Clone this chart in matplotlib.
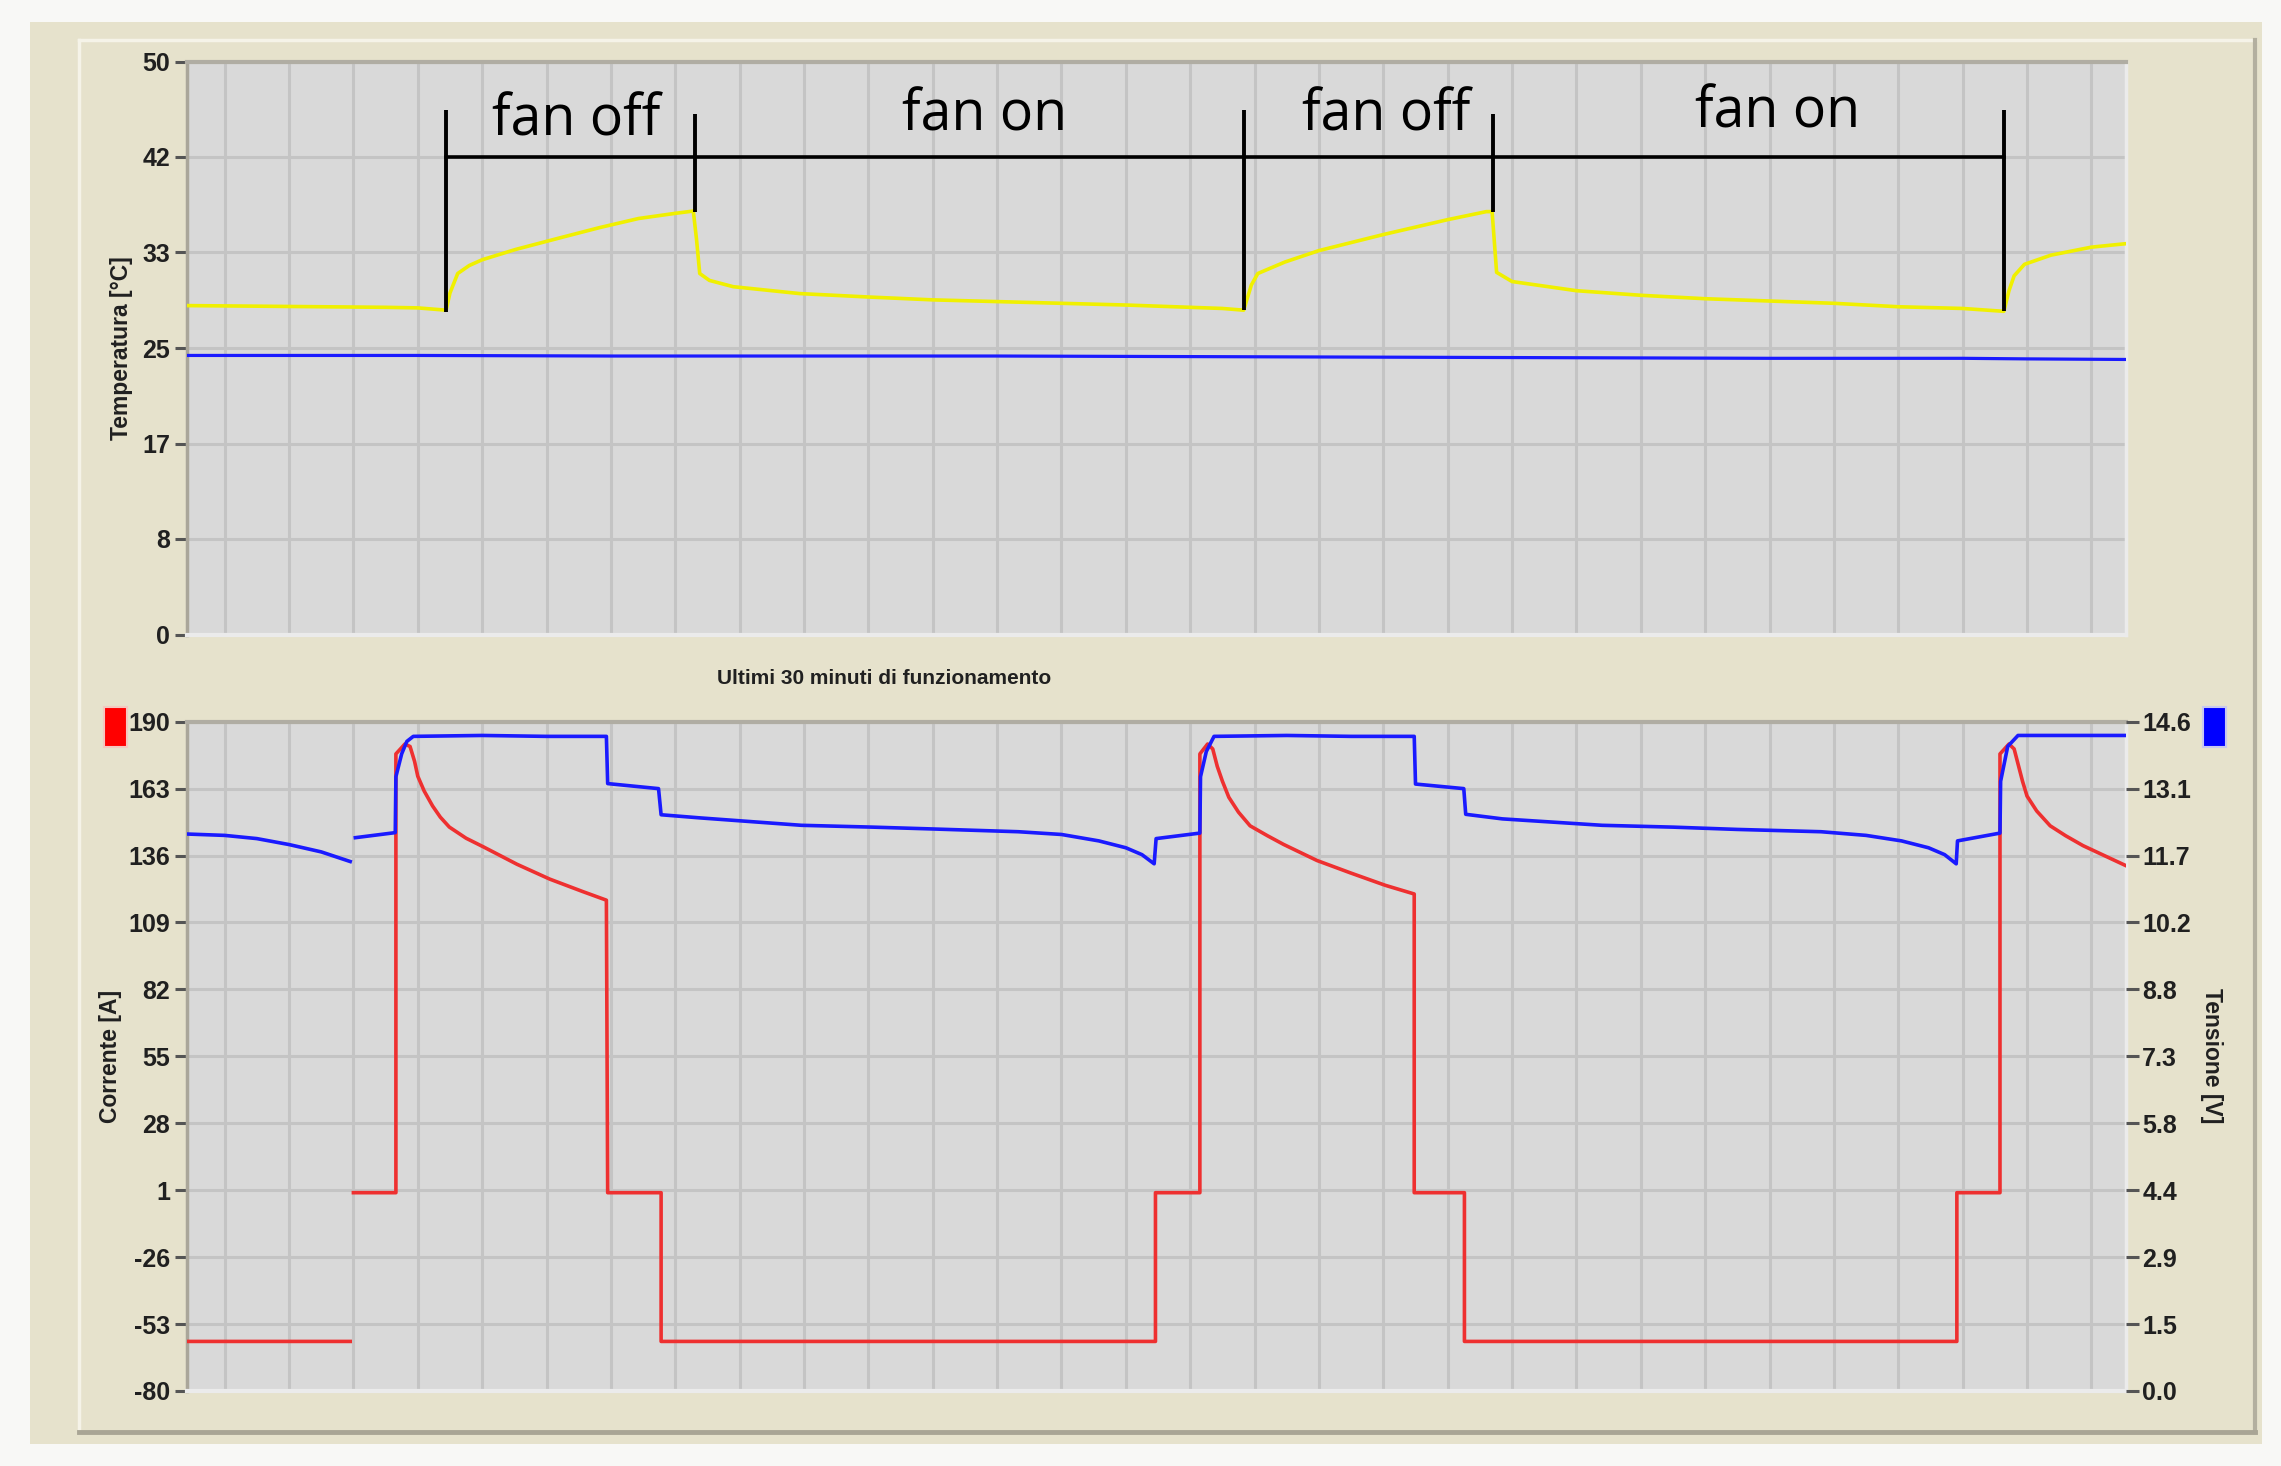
import matplotlib
matplotlib.use("Agg")
import matplotlib.pyplot as plt
import numpy as np
from matplotlib.patches import Rectangle
from matplotlib.lines import Line2D

# ---------------- data (time in minutes) ----------------
temp_ticklabels = ["0", "8", "17", "25", "33", "42", "50"]
cur_ticklabels = ["-80", "-53", "-26", "1", "28", "55", "82", "109", "136", "163", "190"]
volt_ticklabels = ["0.0", "1.5", "2.9", "4.4", "5.8", "7.3", "8.8", "10.2", "11.7", "13.1", "14.6"]

# yellow temperature
yel_t = [-0.59, 0.5, 1.5, 2.5, 3.0, 3.44, 3.50, 3.62, 3.8, 4.0, 4.52, 5.2, 5.82, 6.43, 7.0, 7.28,
         7.33, 7.38, 7.53, 7.9, 8.93, 10.0, 11.0, 12.0, 13.0, 14.0, 15.0, 15.5, 15.83,
         15.95, 16.05, 16.47, 17.0, 18.0, 19.0, 19.6, 19.69, 19.76, 20.0, 21.0, 22.0, 23.0,
         24.0, 25.0, 26.0, 27.0, 27.64, 27.72, 27.8, 27.96, 28.37, 29.0, 29.53]
yel_v = [28.7, 28.65, 28.6, 28.55, 28.5, 28.3, 29.8, 31.5, 32.2, 32.7, 33.6, 34.6, 35.5, 36.3, 36.75, 36.95,
         34.5, 31.5, 30.9, 30.35, 29.75, 29.45, 29.2, 29.05, 28.9, 28.75, 28.55, 28.45, 28.3,
         30.5, 31.5, 32.5, 33.5, 34.9, 36.2, 36.9, 36.9, 31.6, 30.8, 30.0, 29.6, 29.3,
         29.1, 28.9, 28.6, 28.45, 28.2, 30.0, 31.3, 32.3, 33.1, 33.8, 34.1]

# blue temperature
bt_t = [-0.59, 3, 6, 9, 12, 15, 18, 21, 24, 27, 28, 29.53]
bt_v = [24.35, 24.35, 24.3, 24.3, 24.3, 24.25, 24.2, 24.15, 24.1, 24.1, 24.05, 24.0]

# red current [A]
cur_t = [-0.59, 1.95, 1.97, 2.0, 2.66, 2.66, 2.8, 2.88, 2.95, 3.0, 3.1, 3.23, 3.35, 3.49, 3.75,
         4.02, 4.54, 5.05, 5.56, 5.93,
         5.95, 6.78, 6.78, 14.46, 14.46, 15.15, 15.15, 15.27, 15.35, 15.42, 15.5, 15.6, 15.75,
         15.93, 16.2, 16.45, 16.97, 17.49, 18.03, 18.48,
         18.48, 19.26, 19.26, 26.91, 26.91, 27.58, 27.58, 27.72, 27.8, 27.87, 27.93, 28.0, 28.15,
         28.36, 28.6, 28.87, 29.2, 29.53]
cur_v = [-60, -60, np.nan, 0, 0, 177, 181, 180, 174, 168, 162, 156, 151.5, 147.5, 143,
         139.5, 132.5, 126.5, 121.5, 118,
         0, 0, -60, -60, 0, 0, 177, 181, 179, 172, 166, 159.5, 153.5,
         148, 144, 140.5, 134, 129, 124, 120.5,
         0, 0, -60, -60, 0, 0, 177, 181, 179, 172, 166, 160, 154,
         148, 144, 140, 136, 132]

# blue voltage [V]
volt_t = [-0.59, 0.0, 0.5, 1.0, 1.5, 1.95, 1.97, 2.03, 2.65, 2.66, 2.75, 2.83, 2.93, 4.0, 5.0, 5.93,
          5.95, 6.74, 6.78, 7.4, 8.96, 10.07, 11.0, 12.33, 13.0, 13.58, 14.0, 14.25, 14.44, 14.47,
          15.15, 15.16, 15.25, 15.37, 16.5, 17.5, 18.48, 18.50, 19.25, 19.28, 19.85, 21.4, 22.5,
          23.5, 24.8, 25.5, 26.05, 26.47, 26.72, 26.9, 26.92, 27.58, 27.59, 27.7, 27.86, 29.53]
volt_v = [12.15, 12.12, 12.05, 11.92, 11.76, 11.55, np.nan, 12.07, 12.18, 13.4, 13.9, 14.17, 14.28, 14.3, 14.28, 14.28,
          13.25, 13.14, 12.57, 12.5, 12.34, 12.3, 12.26, 12.2, 12.14, 12.0, 11.85, 11.7, 11.5, 12.05,
          12.17, 13.4, 13.95, 14.28, 14.3, 14.28, 14.28, 13.24, 13.14, 12.58, 12.48, 12.34, 12.3,
          12.25, 12.2, 12.12, 12.0, 11.85, 11.7, 11.5, 12.0, 12.17, 13.3, 14.06, 14.3, 14.3]

# annotation brackets
bracket_t = [3.44, 7.31, 15.83, 19.71, 27.64]
bracket_top = [45.8, 45.4, 45.8, 45.4, 45.8]
bracket_bottom = [28.1, 36.9, 28.3, 36.9, 28.2]
bracket_level = 41.67
phase_labels = ["fan off", "fan on", "fan off", "fan on"]
phase_x = [5.46, 11.81, 18.04, 24.12]
phase_y = [43.53, 43.96, 43.96, 44.26]

# ---------------- styling ----------------
plt.rcParams["font.family"] = ["Liberation Sans", "DejaVu Sans"]
W, H = 2281, 1466
fig = plt.figure(figsize=(W / 100, H / 100), dpi=100, facecolor="#f8f8f6")

def fx(x):
    return x / W

def fy(y):
    return 1 - y / H

BEIGE = "#e6e2cc"
fig.patches.append(Rectangle((fx(30), fy(1444)), (2262 - 30) / W, (1444 - 22) / H,
                             transform=fig.transFigure, facecolor=BEIGE, edgecolor="none", zorder=-10))
# inner panel 3D edges
fig.add_artist(Line2D([fx(79), fx(79)], [fy(40), fy(1432)], color="#f5f3e8", lw=2.5, transform=fig.transFigure))
fig.add_artist(Line2D([fx(79), fx(2255)], [fy(40), fy(40)], color="#f5f3e8", lw=2.5, transform=fig.transFigure))
fig.add_artist(Line2D([fx(2255), fx(2255)], [fy(40), fy(1432)], color="#b3af9f", lw=3, transform=fig.transFigure))
fig.add_artist(Line2D([fx(79), fx(2255)], [fy(1432), fy(1432)], color="#a9a595", lw=3.5, transform=fig.transFigure))

PLOT_BG = "#d9d9d9"
GRID = "#c4c4c4"
left_px, right_px = 186.7, 2125.5
ax1 = fig.add_axes([fx(left_px), fy(634.5), (right_px - left_px) / W, (634.5 - 61.5) / H])
ax2 = fig.add_axes([fx(left_px), fy(1391), (right_px - left_px) / W, (1391 - 721.7) / H])
ax2r = ax2.twinx()

XMIN, XMAX = -0.59, 29.53
tick_kw = dict(direction="out", length=9, width=2.2, color="#555555", pad=3,
               labelsize=18, labelcolor="#202020")

for ax in (ax1, ax2):
    ax.set_facecolor(PLOT_BG)
    ax.set_xlim(XMIN, XMAX)
    ax.set_xticks(np.arange(0, 30))
    ax.tick_params(axis="x", length=0, labelbottom=False)
    ax.grid(True, color=GRID, lw=2.2, zorder=0)
    ax.set_axisbelow(True)
    ax.spines["left"].set_color("#aaa69a")
    ax.spines["top"].set_color("#b0ada3")
    ax.spines["left"].set_linewidth(2.5)
    ax.spines["top"].set_linewidth(3.0)
    ax.spines["right"].set_color("#ebebeb")
    ax.spines["bottom"].set_color("#ebebeb")
    ax.spines["right"].set_linewidth(2.5)
    ax.spines["bottom"].set_linewidth(3)
    ax.tick_params(axis="y", **tick_kw)

# top chart
ax1.set_ylim(0, 50)
ax1.set_yticks(np.linspace(0, 50, 7))
ax1.set_yticklabels(temp_ticklabels, fontweight="bold")
ax1.plot(bt_t, bt_v, color="#1a1aff", lw=2.3, zorder=3)
ax1.plot(yel_t, yel_v, color="#f0f000", lw=2.6, zorder=3)
ax1.plot([bracket_t[0], bracket_t[-1]], [bracket_level, bracket_level], color="black", lw=2.6, zorder=5)
for t, top, bot in zip(bracket_t, bracket_top, bracket_bottom):
    ax1.plot([t, t], [bot, top], color="black", lw=2.8, zorder=5, solid_capstyle="butt")
for lab, x, y in zip(phase_labels, phase_x, phase_y):
    ax1.text(x, y, lab, ha="center", va="baseline", fontsize=40, color="black",
             family=["Open Sans", "DejaVu Sans"], zorder=6)

# bottom chart
ax2.set_ylim(-80, 190)
ax2.set_yticks(np.linspace(-80, 190, 11))
ax2.set_yticklabels(cur_ticklabels, fontweight="bold")
ax2.plot(cur_t, cur_v, color="#ee3030", lw=2.6, zorder=3)

ax2r.set_ylim(0, 14.6)
ax2r.set_yticks(np.linspace(0, 14.6, 11))
ax2r.set_yticklabels(volt_ticklabels, fontweight="bold")
ax2r.tick_params(axis="y", **tick_kw)
for s in ax2r.spines.values():
    s.set_visible(False)
ax2r.plot(volt_t, volt_v, color="#1a1aff", lw=2.6, zorder=4)

# texts
fig.text(fx(884), fy(679), "Ultimi 30 minuti di funzionamento", ha="center", va="center",
         fontsize=15, fontweight="bold", color="#202020")
fig.text(fx(121.5), fy(348), "Temperatura [°C]", rotation=90, ha="center", va="center",
         fontsize=16.5, fontweight="bold", color="#202020")
fig.text(fx(111), fy(1056), "Corrente [A]", rotation=90, ha="center", va="center",
         fontsize=16.5, fontweight="bold", color="#202020")
fig.text(fx(2212), fy(1056), "Tensione [V]", rotation=-90, ha="center", va="center",
         fontsize=16.5, fontweight="bold", color="#202020")

# series colour markers
fig.patches.append(Rectangle((fx(104), fy(747)), 23 / W, 40 / H, transform=fig.transFigure,
                             facecolor="#ff0000", edgecolor="#f4c8c0", lw=1.5))
fig.patches.append(Rectangle((fx(2203), fy(747)), 23 / W, 40 / H, transform=fig.transFigure,
                             facecolor="#0000ff", edgecolor="#c8c8f0", lw=1.5))

fig.savefig("out.png", dpi=100, facecolor=fig.get_facecolor())
